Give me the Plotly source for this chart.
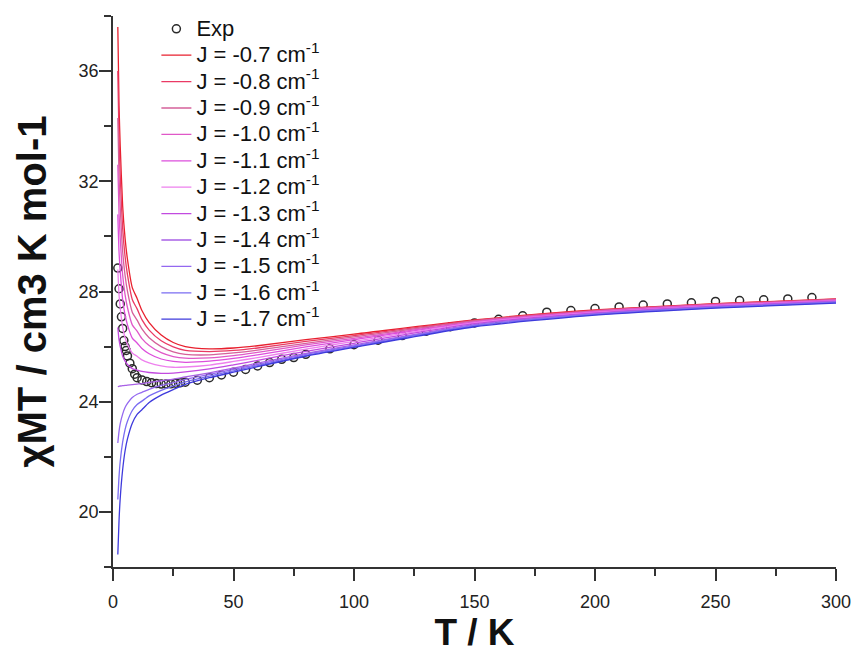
import plotly.graph_objects as go

# Experimental data
exp_T = [2, 2.5, 3, 3.5, 4, 4.5, 5, 5.5, 6, 7, 8, 9, 10, 12, 14, 16, 18, 20, 22, 24, 26, 28, 30,
         35, 40, 45, 50, 55, 60, 65, 70, 75, 80, 90, 100, 110, 120, 130, 140, 150, 160, 170,
         180, 190, 200, 210, 220, 230, 240, 250, 260, 270, 280, 290]
exp_chiT = [28.85, 28.10, 27.55, 27.08, 26.66, 26.22, 26.00, 25.86, 25.66, 25.40, 25.20, 25.00,
            24.87, 24.79, 24.73, 24.69, 24.66, 24.64, 24.64, 24.65, 24.67, 24.69, 24.71,
            24.78, 24.87, 24.97, 25.07, 25.17, 25.30, 25.42, 25.54, 25.60, 25.72, 25.92, 26.07,
            26.23, 26.40, 26.56, 26.72, 26.86, 26.99, 27.12, 27.25, 27.31, 27.38, 27.44, 27.51,
            27.55, 27.59, 27.64, 27.67, 27.70, 27.73, 27.78]

# Simulated curves
sim_T = [2, 2.5, 3, 4, 5, 6, 8, 10, 12, 15, 20, 25, 30, 40, 50, 60, 80, 100, 150, 200, 250, 300]
J_labels = ["-0.7", "-0.8", "-0.9", "-1.0", "-1.1", "-1.2", "-1.3", "-1.4", "-1.5", "-1.6", "-1.7"]

sim_J07 = [37.60, 34.74, 33.27, 31.11, 29.94, 29.17, 28.14, 27.75, 27.31, 26.87, 26.42, 26.15, 26.00,
           25.92, 25.95, 26.03, 26.25, 26.45, 26.97, 27.33, 27.56, 27.73]
sim_J08 = [36.00, 33.49, 32.21, 30.31, 29.28, 28.61, 27.71, 27.37, 26.98, 26.60, 26.21, 25.99, 25.86,
           25.82, 25.86, 25.95, 26.19, 26.40, 26.95, 27.31, 27.55, 27.72]
sim_J09 = [34.30, 32.17, 31.07, 29.46, 28.59, 28.01, 27.25, 26.96, 26.64, 26.32, 26.00, 25.81, 25.72,
           25.70, 25.77, 25.87, 26.12, 26.35, 26.93, 27.30, 27.53, 27.71]
sim_J10 = [32.60, 30.84, 29.94, 28.61, 27.89, 27.42, 26.79, 26.56, 26.29, 26.04, 25.78, 25.64, 25.58,
           25.59, 25.67, 25.79, 26.06, 26.30, 26.90, 27.28, 27.52, 27.69]
sim_J11 = [30.80, 29.44, 28.74, 27.71, 27.15, 26.79, 26.31, 26.13, 25.93, 25.74, 25.55, 25.46, 25.43,
           25.47, 25.57, 25.70, 25.99, 26.25, 26.88, 27.26, 27.50, 27.68]
sim_J12 = [28.80, 27.88, 27.40, 26.71, 26.33, 26.09, 25.77, 25.65, 25.52, 25.41, 25.30, 25.25, 25.26,
           25.33, 25.46, 25.60, 25.91, 26.19, 26.86, 27.24, 27.49, 27.66]
sim_J13 = [26.70, 26.24, 26.00, 25.66, 25.47, 25.35, 25.20, 25.15, 25.10, 25.06, 25.03, 25.04, 25.08,
           25.19, 25.34, 25.50, 25.83, 26.12, 26.83, 27.22, 27.47, 27.65]
sim_J14 = [24.55, 24.56, 24.57, 24.58, 24.59, 24.60, 24.62, 24.64, 24.66, 24.70, 24.76, 24.82, 24.90,
           25.05, 25.22, 25.40, 25.75, 26.06, 26.80, 27.20, 27.45, 27.63]
sim_J15 = [22.50, 22.92, 23.20, 23.55, 23.79, 23.94, 24.15, 24.27, 24.34, 24.45, 24.59, 24.69, 24.81,
           24.99, 25.17, 25.35, 25.72, 26.03, 26.77, 27.18, 27.43, 27.61]
sim_J16 = [20.45, 21.28, 21.84, 22.53, 22.99, 23.29, 23.68, 23.90, 24.02, 24.21, 24.41, 24.57, 24.72,
           24.93, 25.12, 25.31, 25.68, 26.00, 26.75, 27.16, 27.42, 27.60]
sim_J17 = [18.45, 19.68, 20.50, 21.53, 22.21, 22.65, 23.22, 23.54, 23.71, 23.97, 24.24, 24.44, 24.63,
           24.87, 25.07, 25.27, 25.65, 25.97, 26.72, 27.14, 27.40, 27.58]

sim_series = [sim_J07, sim_J08, sim_J09, sim_J10, sim_J11, sim_J12, sim_J13,
              sim_J14, sim_J15, sim_J16, sim_J17]

colors = ["#e8202e", "#ea3a64", "#d5609a", "#e058c8", "#dc4fdc", "#ee80ee",
          "#c24ae0", "#a860e6", "#9468f0", "#7a6cf2", "#3e3adc"]

font_main = "Liberation Sans, Arial, sans-serif"

fig = go.Figure()

fig.add_trace(go.Scatter(
    x=exp_T, y=exp_chiT, mode="markers", name='<span style="font-size:22px">Exp</span>',
    marker=dict(symbol="circle-open", size=8, color="#2a2a2a", line=dict(width=1.5)),
))

for lab, ys, col in zip(J_labels, sim_series, colors):
    fig.add_trace(go.Scatter(
        x=sim_T, y=ys, mode="lines",
        name=f'<span style="font-size:22px">J = {lab} cm<sup>-1</sup></span>',
        line=dict(color=col, width=1.3, shape="spline", smoothing=0.6),
    ))

fig.update_layout(
    width=858, height=654,
    margin=dict(l=113, r=22, t=15, b=87),
    paper_bgcolor="white", plot_bgcolor="white",
    font=dict(family=font_main, size=18, color="#222222"),
    showlegend=True,
    legend=dict(x=0.06, y=1.008, xanchor="left", yanchor="top",
                bgcolor="rgba(0,0,0,0)", borderwidth=0,
                font=dict(family=font_main, size=18, color="#111111"),
                tracegroupgap=0),
)

fig.update_xaxes(
    range=[0, 300], showgrid=False, zeroline=False, automargin=False,
    showline=True, linecolor="#333333", linewidth=1.5,
    ticks="outside", ticklen=12, tickwidth=1.5, tickcolor="#333333",
    tick0=0, dtick=50, ticklabelstandoff=6,
    minor=dict(ticks="outside", ticklen=7, tickwidth=1.5, tickcolor="#333333", dtick=25),
    tickfont=dict(family=font_main, size=18, color="#222222"),
    title=dict(text="<b>T / K</b>", font=dict(family=font_main, size=37, color="#111111"),
               standoff=6),
)
fig.update_yaxes(
    range=[18, 38], showgrid=False, zeroline=False, automargin=False,
    showline=True, linecolor="#333333", linewidth=1.5,
    ticks="outside", ticklen=12, tickwidth=1.5, tickcolor="#333333",
    tick0=0, dtick=4, ticklabelstandoff=-3,
    minor=dict(ticks="outside", ticklen=7, tickwidth=1.5, tickcolor="#333333", dtick=2),
    tickfont=dict(family=font_main, size=18, color="#222222"),
    title=dict(text="<b>χMT / cm3 K mol-1</b>", font=dict(family=font_main, size=40, color="#111111"),
               standoff=20),
)

fig.write_html("out.html")
